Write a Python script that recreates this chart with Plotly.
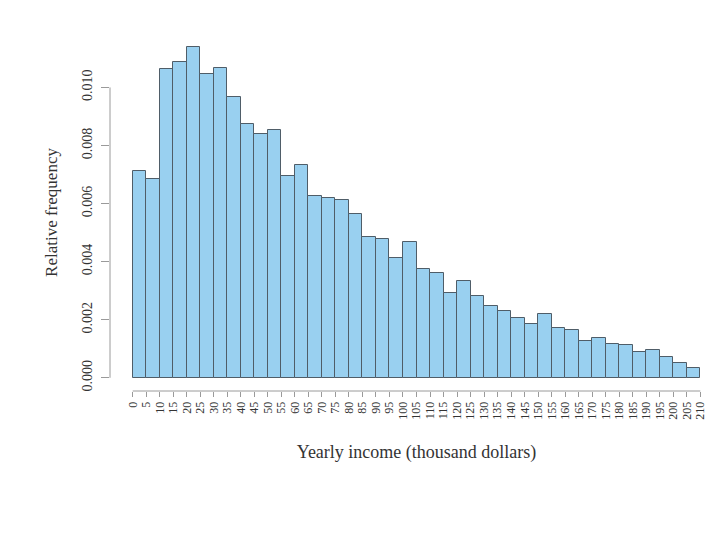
import plotly.graph_objects as go

# Histogram bins (thousand dollars) and relative frequencies
bin_edges = list(range(0, 215, 5))
rel_freq = [0.00712, 0.00685, 0.01064, 0.01088, 0.01138, 0.01047, 0.01068,
            0.00967, 0.00875, 0.00841, 0.00855, 0.00696, 0.00733, 0.00627,
            0.00620, 0.00614, 0.00563, 0.00486, 0.00478, 0.00414, 0.00468,
            0.00376, 0.00362, 0.00293, 0.00333, 0.00282, 0.00246, 0.00231,
            0.00205, 0.00185, 0.00220, 0.00170, 0.00164, 0.00127, 0.00137,
            0.00117, 0.00112, 0.00090, 0.00094, 0.00070, 0.00051, 0.00033]
x_ticks = list(range(0, 215, 5))
y_ticks = [0.000, 0.002, 0.004, 0.006, 0.008, 0.010]

centers = [(bin_edges[i] + bin_edges[i + 1]) / 2 for i in range(len(rel_freq))]
widths = [bin_edges[i + 1] - bin_edges[i] for i in range(len(rel_freq))]

FONT = "Liberation Serif"
AXIS_COLOR = "#9a9a9a"
TEXT_COLOR = "#333333"

fig = go.Figure(go.Bar(
    x=centers, y=rel_freq, width=widths,
    marker=dict(color="#99d0f0", line=dict(color="#4f5d68", width=1)),
    hoverinfo="x+y",
))

fig.update_layout(
    width=726, height=544,
    margin=dict(l=110, r=3, t=34, b=153),
    plot_bgcolor="white", paper_bgcolor="white",
    showlegend=False,
    font=dict(family=FONT, color=TEXT_COLOR),
    bargap=0,
)

fig.update_xaxes(
    range=[-8.4, 218.4], tickvals=x_ticks, ticktext=[str(v) for v in x_ticks],
    tickangle=-90, ticks="outside", ticklen=5, tickcolor=AXIS_COLOR,
    tickfont=dict(size=12, family=FONT, color=TEXT_COLOR),
    showgrid=False, zeroline=False, showline=False,
    title=dict(text="Yearly income (thousand dollars)",
               font=dict(size=18, family=FONT, color=TEXT_COLOR), standoff=26),
)
fig.update_yaxes(
    range=[-0.000455, 0.01184], tickvals=y_ticks,
    ticktext=[f"{v:.3f}" for v in y_ticks],
    tickangle=-90, ticks="outside", ticklen=8, tickcolor=AXIS_COLOR,
    tickfont=dict(size=14, family=FONT, color=TEXT_COLOR),
    ticklabelstandoff=3,
    showgrid=False, zeroline=False, showline=False,
    title=dict(text="Relative frequency",
               font=dict(size=17, family=FONT, color=TEXT_COLOR), standoff=18),
)

# R-style axis lines spanning only from first to last tick
fig.add_shape(type="line", xref="x", yref="paper",
              x0=x_ticks[0], x1=x_ticks[-1], y0=0, y1=0,
              line=dict(color=AXIS_COLOR, width=1))
fig.add_shape(type="line", xref="paper", yref="y",
              x0=0, x1=0, y0=y_ticks[0], y1=y_ticks[-1],
              line=dict(color=AXIS_COLOR, width=1))

fig.write_html("out.html")
